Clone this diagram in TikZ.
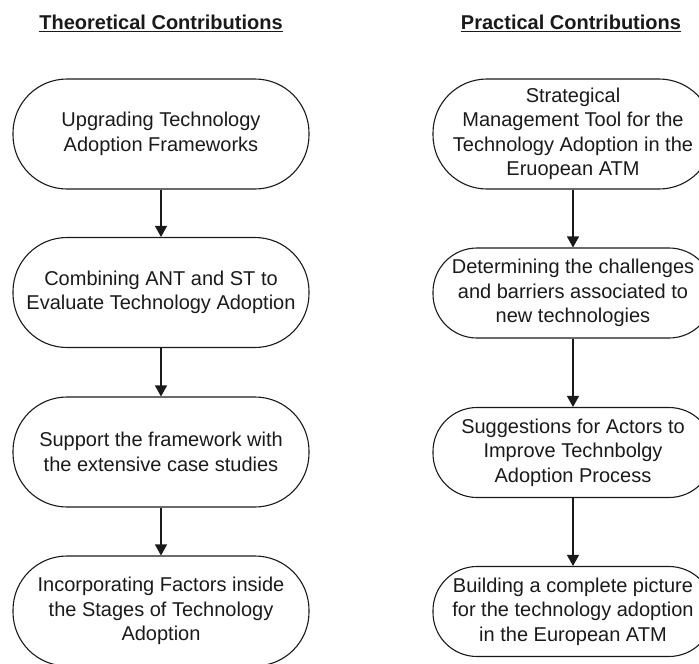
\documentclass[tikz,border=0pt]{standalone}
\usepackage{fontspec}
\setmainfont{Liberation Sans}
\usetikzlibrary{arrows.meta}
\definecolor{ink}{HTML}{1A1A1A}
\tikzset{
  >={Triangle[length=11pt,width=12pt]},
  ctitle/.style={font=\fontsize{20}{24}\selectfont\bfseries,text=ink,align=center},
  term/.style={draw=ink,line width=1.1pt,rounded corners=54pt,minimum width=296pt,
    minimum height=110pt,inner sep=0pt,align=center,text=ink,
    font=\fontsize{20}{24.5}\selectfont},
  termR/.style={term,minimum width=280pt},
  termS/.style={termR,minimum height=90pt,rounded corners=44pt},
  flow/.style={->,draw=ink,line width=1.2pt},
}

\begin{document}
\begin{tikzpicture}[x=1pt,y=-1pt]
\useasboundingbox (0,0) rectangle (699,664);

% ---------- titles ----------
\node[ctitle] (tT) at (161,23) {\underline{Theoretical Contributions}};
\node[ctitle] (tP) at (571,23) {\underline{Practical Contributions}};

% ================= LEFT COLUMN (theoretical) =================
\node[term] (T1) at (161,134) {Upgrading Technology\\Adoption Frameworks};
\node[term] (T2) at (161,292.5) {Combining ANT and ST to\\Evaluate Technology Adoption};
\node[term] (T3) at (161,452) {Support the framework with\\the extensive case studies};
\node[term] (T4) at (161,611) {Incorporating Factors inside\\the Stages of Technology\\Adoption};
\draw[flow] (T1) -- (T2);
\draw[flow] (T2) -- (T3);
\draw[flow] (T3) -- (T4);

% ================= RIGHT COLUMN (practical) =================
\node[termR] (P1) at (573,134) {Strategical\\Management Tool for the\\Technology Adoption in the\\Eruopean ATM};
\node[termS] (P2) at (573,293) {Determining the challenges\\and barriers associated to\\new technologies};
\node[termS] (P3) at (573,452.5) {Suggestions for Actors to\\Improve Technbolgy\\Adoption Process};
\node[termS] (P4) at (573,611.5) {Building a complete picture\\for the technology adoption\\in the European ATM};
\draw[flow] (P1) -- (P2);
\draw[flow] (P2) -- (P3);
\draw[flow] (P3) -- (P4);

\end{tikzpicture}
\end{document}
